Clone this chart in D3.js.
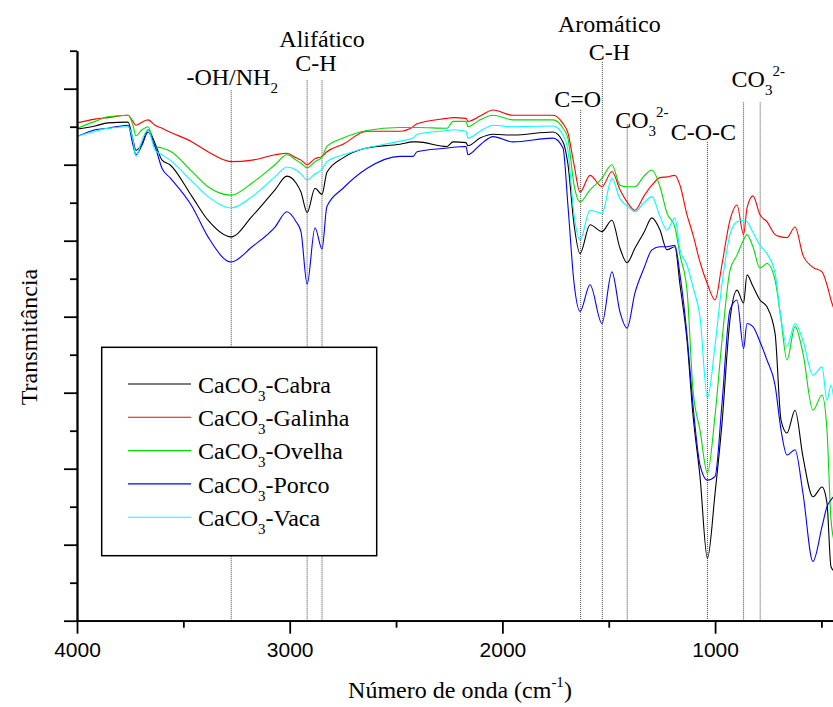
<!DOCTYPE html>
<html>
<head>
  <script src="https://d3js.org/d3.v7.min.js"></script>
  <style>
    body { margin: 0; background: #fff; }
    svg { display: block; }
    .serif { font-family: "Liberation Serif", "Times New Roman", serif; fill: #000; }
    .axis path, .axis line { stroke: #000; stroke-width: 1.8px; }
    .axis text { font-family: "Liberation Sans", Arial, sans-serif; font-size: 21px; fill: #000; }
  </style>
</head>
<body>
  <div id="chart_div"></div>

  <script>
    // Wavenumber grid (cm-1) shared by the five spectra
    var wavenumbers = [4000, 3915, 3854, 3760, 3737, 3723, 3694, 3666, 3633, 3600,
      3563, 3459, 3384, 3275, 3177, 3069, 3013, 2970, 2947, 2918,
      2881, 2848, 2825, 2749, 2637, 2481, 2420, 2401, 2260, 2232,
      2171, 2162, 2105, 2044, 1950, 1762, 1715, 1692, 1663, 1635,
      1588, 1532, 1485, 1447, 1414, 1377, 1334, 1297, 1259, 1226,
      1189, 1165, 1132, 1104, 1071, 1036, 1000, 968, 930, 897,
      866, 850, 822, 789, 756, 718, 690, 662, 624, 587,
      540, 497, 474, 455, 436];

    // Transmittance (arbitrary units, axis has no labels)
    var cabra = [64.7, 65.1, 65.5, 65.6, 63.3, 61.9, 62.8, 64.6, 62.8, 60.6,
      60.0, 55.8, 52.7, 50.5, 53.2, 56.7, 58.5, 57.6, 56.4, 53.7,
      56.9, 56.1, 59.0, 60.9, 62.2, 62.7, 63.0, 63.0, 62.4, 63.0,
      62.9, 62.5, 63.5, 64.0, 63.9, 64.3, 63.0, 60.1, 52.1, 48.3,
      52.1, 51.2, 52.7, 49.0, 47.1, 49.0, 51.1, 53.0, 51.4, 48.8,
      49.2, 44.2, 36.9, 27.1, 19.0, 8.2, 16.8, 25.8, 39.6, 43.5,
      41.8, 45.5, 44.0, 42.2, 41.3, 37.8, 26.4, 24.7, 27.7, 21.6,
      16.3, 17.6, 15.5, 7.1, 6.4];
    var galinha = [65.5, 66.0, 66.2, 66.5, 65.7, 65.2, 65.6, 65.9, 65.2, 64.8,
      64.3, 63.0, 61.7, 60.4, 60.6, 61.3, 61.5, 60.9, 60.6, 60.0,
      60.8, 61.1, 61.7, 62.7, 64.4, 64.4, 65.0, 65.4, 66.1, 66.2,
      66.1, 65.7, 66.4, 67.2, 66.5, 66.5, 65.4, 64.2, 60.0, 56.4,
      58.6, 57.1, 59.1, 56.7, 55.1, 54.0, 55.9, 57.3, 58.3, 58.4,
      58.6, 57.3, 53.4, 50.8, 47.2, 44.3, 42.2, 46.8, 52.7, 54.7,
      50.8, 54.3, 55.9, 53.4, 52.5, 50.8, 50.5, 50.4, 51.8, 48.1,
      46.5, 45.9, 44.2, 42.2, 40.6];
    var ovelha = [64.8, 65.7, 66.3, 66.5, 65.2, 63.8, 64.6, 65.0, 62.4, 62.2,
      61.8, 59.1, 57.1, 56.0, 57.6, 60.0, 61.3, 60.6, 60.2, 59.6,
      60.4, 61.0, 62.4, 63.5, 64.5, 64.9, 64.9, 64.9, 64.8, 65.7,
      65.7, 65.0, 65.9, 66.5, 65.9, 65.9, 64.8, 63.5, 57.3, 55.1,
      56.7, 58.2, 60.0, 57.3, 57.1, 57.1, 58.5, 59.3, 57.1, 53.6,
      51.8, 48.1, 43.5, 30.4, 25.1, 19.4, 27.1, 36.7, 46.1, 48.1,
      50.1, 50.8, 49.2, 46.4, 47.0, 44.8, 39.6, 34.3, 38.7, 35.2,
      27.7, 29.7, 25.1, 13.3, 10.0];
    var porco = [63.7, 64.6, 64.8, 65.2, 62.6, 61.3, 62.6, 64.3, 62.4, 59.5,
      58.3, 54.5, 50.5, 47.2, 49.2, 51.8, 53.8, 52.5, 51.2, 44.3,
      51.7, 48.9, 54.5, 56.9, 59.5, 61.1, 61.1, 61.7, 62.2, 62.3,
      62.4, 61.3, 62.6, 63.7, 63.0, 63.5, 62.2, 54.7, 44.4, 40.7,
      44.2, 39.1, 45.9, 40.6, 38.5, 43.1, 46.4, 48.8, 49.2, 49.2,
      49.4, 45.5, 37.6, 28.4, 20.5, 18.5, 19.0, 28.4, 40.9, 42.2,
      35.8, 39.1, 38.7, 36.7, 34.3, 31.0, 25.1, 21.8, 22.5, 16.8,
      7.8, 12.4, 15.0, 15.9, 16.5];
    var vaca = [63.7, 64.4, 64.8, 65.0, 63.3, 61.1, 63.3, 64.6, 61.9, 61.3,
      60.6, 57.8, 55.8, 54.3, 55.8, 58.4, 59.7, 59.3, 58.8, 58.0,
      58.8, 59.4, 60.4, 61.3, 62.2, 63.1, 63.5, 64.0, 64.5, 64.6,
      64.4, 63.5, 64.4, 65.2, 65.0, 65.1, 63.9, 61.9, 53.4, 50.1,
      54.0, 53.6, 58.2, 55.5, 54.6, 53.8, 55.0, 55.8, 53.2, 51.4,
      53.0, 48.8, 46.8, 43.9, 40.0, 29.3, 36.3, 44.2, 50.8, 52.5,
      52.7, 52.5, 51.1, 49.4, 48.3, 45.7, 39.8, 36.1, 39.1, 36.9,
      32.3, 33.4, 29.0, 31.0, 27.7];

    var seriesNames = ["Cabra", "Galinha", "Ovelha", "Porco", "Vaca"];
    var seriesValues = [cabra, galinha, ovelha, porco, vaca];
    var seriesColors = ["#000000", "#ff0000", "#00dd00", "#0000ff", "#00ffff"];

    // Axis ticks
    var xMajorTicks = [4000, 3000, 2000, 1000];
    var xMinorTicks = [3500, 2500, 1500, 500];
    var yMajorTicks = [0, 10, 20, 30, 40, 50, 60, 70];
    var yMinorTicks = [5, 15, 25, 35, 45, 55, 65, 75];

    // Band marker lines: wavenumber and the transmittance where the dotted line starts
    var bandWavenumbers = [3275, 2918, 2848, 1632, 1530, 1413, 1036, 866, 788];
    var bandTops = [69.8, 71.1, 71.1, 67.2, 73.5, 65.3, 63.0, 68.2, 68.2];

    // Chart dimensions
    var margin = { top: 50.7, left: 77 };
    var width = 765.7;
    var height = 570;

    var svg = d3.select("#chart_div")
      .append("svg")
      .attr("width", 833)
      .attr("height", 707);

    var g = svg.append("g")
      .attr("transform", "translate(" + margin.left + "," + margin.top + ")");

    var x = d3.scaleLinear().domain([4000, 400]).range([0, width]);
    var y = d3.scaleLinear().domain([0, 75]).range([height, 0]);

    // dotted band lines
    g.selectAll(".band")
      .data(bandWavenumbers)
      .enter()
      .append("line")
      .attr("class", "band")
      .attr("x1", function(d) { return x(d); })
      .attr("x2", function(d) { return x(d); })
      .attr("y1", function(d, i) { return y(bandTops[i]); })
      .attr("y2", y(0))
      .attr("stroke", "#444")
      .attr("stroke-width", 1)
      .attr("stroke-dasharray", "1,1");

    // spectra
    var line = d3.line()
      .x(function(d, i) { return x(wavenumbers[i]); })
      .y(function(d) { return y(d); })
      .curve(d3.curveMonotoneX);

    g.selectAll(".spectrum")
      .data(seriesValues)
      .enter()
      .append("path")
      .attr("class", "spectrum")
      .attr("d", line)
      .attr("fill", "none")
      .attr("stroke", function(d, i) { return seriesColors[i]; })
      .attr("stroke-width", 1.1);

    // text with sub / superscripts
    function addText(parent, parts, px, py, anchor) {
      var t = parent.append("text")
        .attr("class", "serif")
        .attr("x", px)
        .attr("y", py)
        .attr("text-anchor", anchor || "start")
        .style("font-size", "24px");
      var shift = 0;
      parts.forEach(function(p) {
        var target = p.sub ? 8 : (p.sup ? -11 : 0);
        t.append("tspan")
          .attr("dy", target - shift)
          .style("font-size", p.sub || p.sup ? "15px" : "24px")
          .text(p.t);
        shift = target;
      });
      return t;
    }

    // band labels, placed relative to their lines
    addText(g, [{ t: "-OH/NH" }, { t: "2", sub: true }], x(3275) + 1, 34.3, "middle");
    addText(g, [{ t: "Alifático" }], x(2848), -4, "middle");
    addText(g, [{ t: "C-H" }], x(2848) - 6, 20, "middle");
    addText(g, [{ t: "Aromático" }], x(1530) + 7, -18.4, "middle");
    addText(g, [{ t: "C-H" }], x(1530) + 7, 9.3, "middle");
    addText(g, [{ t: "C=O" }], x(1632) - 3, 56.6, "middle");
    addText(g, [{ t: "CO" }, { t: "3", sub: true }, { t: "2-", sup: true }], x(1413) - 12, 77.6);
    addText(g, [{ t: "C-O-C" }], x(1036) - 4, 89.3, "middle");
    addText(g, [{ t: "CO" }, { t: "3", sub: true }, { t: "2-", sup: true }], x(866) - 12, 36.6);

    // legend
    var legend = g.append("g")
      .attr("transform", "translate(" + (101.7 - margin.left) + "," + (347.3 - margin.top) + ")");

    legend.append("rect")
      .attr("width", 275)
      .attr("height", 208.4)
      .attr("fill", "#fff")
      .attr("stroke", "#000")
      .attr("stroke-width", 1.5);

    var rows = legend.selectAll(".legendRow")
      .data(seriesNames)
      .enter()
      .append("g")
      .attr("class", "legendRow")
      .attr("transform", function(d, i) { return "translate(0," + (i * 33.3) + ")"; });

    rows.append("line")
      .attr("x1", 26.3)
      .attr("x2", 89.3)
      .attr("y1", 36.7)
      .attr("y2", 36.7)
      .attr("stroke", function(d, i) { return seriesColors[i]; })
      .attr("stroke-width", 1.1);

    rows.each(function(d) {
      addText(d3.select(this), [{ t: "CaCO" }, { t: "3", sub: true }, { t: "-" + d }], 96.3, 45.4);
    });

    // x axis, major and minor ticks
    g.append("g")
      .attr("class", "axis")
      .attr("transform", "translate(0," + height + ")")
      .call(d3.axisBottom(x).tickValues(xMajorTicks).tickSize(13).tickSizeOuter(0)
        .tickPadding(8).tickFormat(d3.format("d")));

    g.append("g")
      .attr("class", "axis")
      .attr("transform", "translate(0," + height + ")")
      .call(d3.axisBottom(x).tickValues(xMinorTicks).tickSize(7).tickSizeOuter(0).tickFormat(""));

    // y axis, no labels
    g.append("g")
      .attr("class", "axis")
      .call(d3.axisLeft(y).tickValues(yMajorTicks).tickSize(13).tickSizeOuter(0).tickFormat(""));

    g.append("g")
      .attr("class", "axis")
      .call(d3.axisLeft(y).tickValues(yMinorTicks).tickSize(7).tickSizeOuter(0).tickFormat(""));

    // axis titles
    addText(svg, [{ t: "Número de onda (cm" }, { t: "-1", sup: true }, { t: ")" }], 460, 698, "middle");

    svg.append("text")
      .attr("class", "serif")
      .attr("transform", "translate(37,337) rotate(-90)")
      .attr("text-anchor", "middle")
      .style("font-size", "24px")
      .text("Transmitância");
  </script>
</body>
</html>
